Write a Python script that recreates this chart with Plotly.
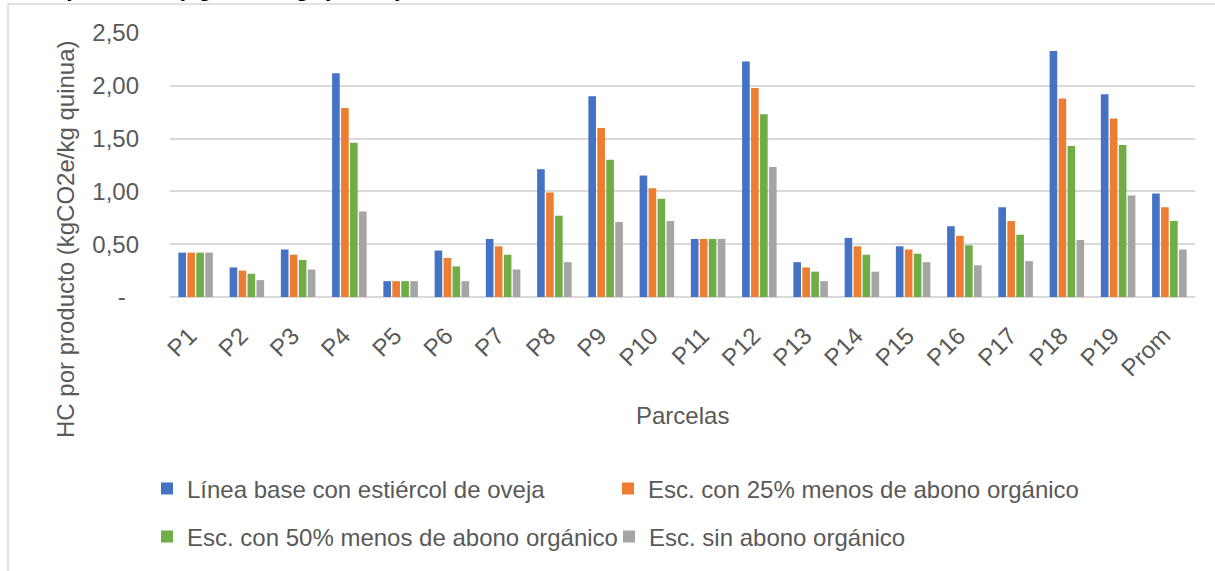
import plotly.graph_objects as go

# Parcelas (categorías del eje X)
parcelas = ["P1", "P2", "P3", "P4", "P5", "P6", "P7", "P8", "P9", "P10",
            "P11", "P12", "P13", "P14", "P15", "P16", "P17", "P18", "P19", "Prom"]

# Huella de carbono por producto (kgCO2e/kg quinua) por escenario
linea_base = [0.42, 0.28, 0.45, 2.12, 0.15, 0.44, 0.55, 1.21, 1.90, 1.15,
              0.55, 2.23, 0.33, 0.56, 0.48, 0.67, 0.85, 2.33, 1.92, 0.98]
esc_25 = [0.42, 0.25, 0.40, 1.79, 0.15, 0.37, 0.48, 0.99, 1.60, 1.03,
          0.55, 1.98, 0.28, 0.48, 0.45, 0.58, 0.72, 1.88, 1.69, 0.85]
esc_50 = [0.42, 0.22, 0.35, 1.46, 0.15, 0.29, 0.40, 0.77, 1.30, 0.93,
          0.55, 1.73, 0.24, 0.40, 0.41, 0.49, 0.59, 1.43, 1.44, 0.72]
esc_sin = [0.42, 0.16, 0.26, 0.81, 0.15, 0.15, 0.26, 0.33, 0.71, 0.72,
           0.55, 1.23, 0.15, 0.24, 0.33, 0.30, 0.34, 0.54, 0.96, 0.45]

series_names = ["Línea base con estiércol de oveja",
                "Esc. con 25% menos de abono orgánico",
                "Esc. con 50% menos de abono orgánico",
                "Esc. sin abono orgánico"]
series_values = [linea_base, esc_25, esc_50, esc_sin]
series_colors = ["#4472C4", "#ED7D31", "#70AD47", "#A5A5A5"]

y_tick_vals = [0, 0.5, 1.0, 1.5, 2.0, 2.5]
y_tick_text = ["-\u00a0\u00a0", "0,50", "1,00", "1,50", "2,00", "2,50"]

# Figure geometry (pixels)
W, H = 1215, 571
ML, MR, MT, MB = 170, 20, 33, 274
PW, PH = W - ML - MR, H - MT - MB


def px_x(x):
    return (x - ML) / PW


def px_y(y):
    return (H - MB - y) / PH


FONT = "Liberation Sans, Arial, sans-serif"
FS = 24
GREY_TXT = "#595959"
GRID = "#D9D9D9"

# one legend box per entry: (left px, centre-line px)
legend_pos = [(147, 489), (608, 489), (147, 537), (609, 537)]
legend_ids = ["legend", "legend2", "legend3", "legend4"]

fig = go.Figure()
for name, vals, col, lg in zip(series_names, series_values, series_colors, legend_ids):
    fig.add_trace(go.Bar(
        x=parcelas, y=vals, name=name, legend=lg,
        marker=dict(color=col, line=dict(width=0)),
    ))

legend_layout = {}
for lg, (lx, ly) in zip(legend_ids, legend_pos):
    legend_layout[lg] = dict(
        orientation="h", x=px_x(lx), xanchor="left",
        y=px_y(ly), yanchor="middle",
        font=dict(family=FONT, size=FS, color=GREY_TXT),
        bgcolor="rgba(0,0,0,0)",
    )

fig.update_layout(
    width=W, height=H,
    margin=dict(l=ML, r=MR, t=MT, b=MB),
    paper_bgcolor="white", plot_bgcolor="white",
    barmode="group", bargap=0.3, bargroupgap=0.15,
    font=dict(family=FONT, size=FS, color=GREY_TXT),
    xaxis=dict(
        type="category", tickangle=-45, showgrid=False, showline=False,
        ticks="", ticklabelstandoff=19, ticklabelshift=-6,
        tickfont=dict(family=FONT, size=FS, color=GREY_TXT),
    ),
    yaxis=dict(
        range=[0, 2.5], tickvals=y_tick_vals, ticktext=y_tick_text,
        showgrid=True, gridcolor=GRID, gridwidth=1.5,
        zeroline=True, zerolinecolor=GRID, zerolinewidth=1.5,
        showline=False, ticks="", ticklabelstandoff=30,
        tickfont=dict(family=FONT, size=FS, color=GREY_TXT),
    ),
    showlegend=True,
    **legend_layout,
)

# Chart frame
fig.add_shape(type="rect", xref="paper", yref="paper",
              x0=px_x(8), x1=px_x(1240), y0=px_y(4), y1=px_y(600),
              line=dict(color=GRID, width=1.5), layer="below")

# Axis titles
fig.add_annotation(text="HC por producto (kgCO2e/kg quinua)", xref="paper", yref="paper",
                   x=px_x(65), y=px_y(239), xanchor="center", yanchor="middle",
                   textangle=-90, showarrow=False,
                   font=dict(family=FONT, size=FS, color=GREY_TXT))
fig.add_annotation(text="Parcelas", xref="paper", yref="paper",
                   x=px_x(682), y=px_y(415), xanchor="center", yanchor="middle",
                   showarrow=False, font=dict(family=FONT, size=FS, color=GREY_TXT))

# Caption line above the chart frame
fig.add_annotation(text="<b>producto (kgCO2e/kg quinua)</b>", xref="paper", yref="paper",
                   x=px_x(64), y=px_y(3), xanchor="left", yanchor="bottom",
                   showarrow=False, font=dict(family=FONT, size=FS, color="black"))

fig.write_html("out.html")
